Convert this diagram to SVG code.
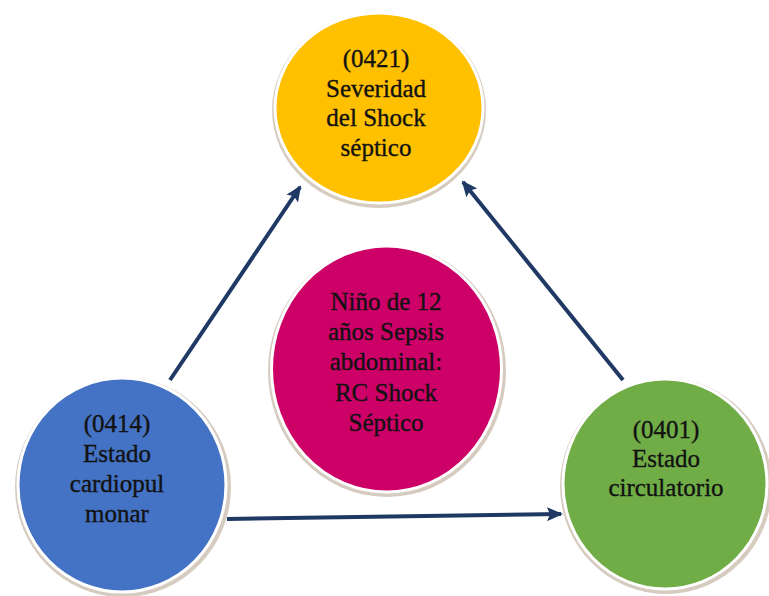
<svg xmlns="http://www.w3.org/2000/svg" width="769" height="596" viewBox="0 0 769 596">
  <style>
    .shadow { fill: #d6cbbf; }
    .node { stroke: #ffffff; stroke-width: 3; }
    .label { font-family: "Liberation Serif", "DejaVu Serif", serif; font-size: 25px; fill: #121212; stroke: #121212; stroke-width: 0.35; text-anchor: middle; }
    .conn { stroke: #1f3864; stroke-width: 4; fill: none; marker-end: url(#arrow); }
  </style>
  <defs>
    <marker id="arrow" markerUnits="userSpaceOnUse" markerWidth="16" markerHeight="14" refX="14" refY="7" orient="auto">
      <path d="M0,0 L16,7 L0,14 L3,7 z" fill="#1f3864"/>
    </marker>
  </defs>
  <rect width="769" height="596" fill="#ffffff"/>

  <g id="connectors">
    <line class="conn" x1="170" y1="380" x2="300" y2="187"/>
    <line class="conn" x1="623" y1="380" x2="463" y2="182"/>
    <line class="conn" x1="227" y1="519" x2="561" y2="514"/>
  </g>

  <g id="node-0421">
    <ellipse class="shadow" cx="379" cy="110" rx="107" ry="98"/>
    <ellipse class="node" cx="379" cy="108" rx="104" ry="95" fill="#ffc000"/>
    <text class="label" x="376" y="67">(0421)</text>
    <text class="label" x="376" y="96.5">Severidad</text>
    <text class="label" x="376" y="126">del Shock</text>
    <text class="label" x="376" y="155.5">séptico</text>
  </g>

  <g id="node-center">
    <ellipse class="shadow" cx="387" cy="371" rx="119" ry="126"/>
    <ellipse class="node" cx="386.5" cy="369" rx="115" ry="123" fill="#cc0066"/>
    <text class="label" x="386" y="310">Niño de 12</text>
    <text class="label" x="386" y="340">años Sepsis</text>
    <text class="label" x="386" y="370">abdominal:</text>
    <text class="label" x="386" y="401">RC Shock</text>
    <text class="label" x="386" y="431">Séptico</text>
  </g>

  <g id="node-0414">
    <ellipse class="shadow" cx="123" cy="487" rx="108" ry="110"/>
    <ellipse class="node" cx="122" cy="485" rx="104" ry="107" fill="#4472c4"/>
    <text class="label" x="117" y="432">(0414)</text>
    <text class="label" x="117" y="462">Estado</text>
    <text class="label" x="117" y="492">cardiopul</text>
    <text class="label" x="117" y="522">monar</text>
  </g>

  <g id="node-0401">
    <ellipse class="shadow" cx="666" cy="486" rx="106" ry="108"/>
    <ellipse class="node" cx="665" cy="484" rx="102" ry="105" fill="#70ad47"/>
    <text class="label" x="666" y="438">(0401)</text>
    <text class="label" x="666" y="467">Estado</text>
    <text class="label" x="666" y="496">circulatorio</text>
  </g>
</svg>
